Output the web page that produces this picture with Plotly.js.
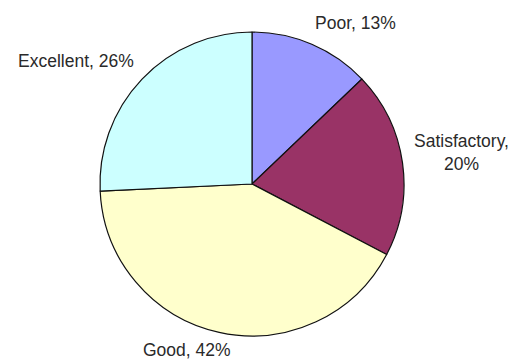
<!DOCTYPE html>
<html><head><meta charset="utf-8">
<script src="https://cdn.plot.ly/plotly-3.0.1.min.js"></script>
<style>html,body{margin:0;padding:0;background:#fff}</style>
</head><body>
<div id="chart" style="width:515px;height:363px"></div>
<script>
const categories = ["Poor", "Satisfactory", "Good", "Excellent"];
const percents = [13, 20, 42, 26];
const sliceColors = ["#9999FF", "#993366", "#FFFFCC", "#CCFFFF"];

const W = 515, H = 363;
// label anchor positions in pixels (x center, y center)
const labelPos = [[355, 23], [461, 152], [187, 350], [76, 61]];
const labelText = categories.map((c, i) =>
  c === "Satisfactory" ? c + ",<br>" + percents[i] + "%" : c + ", " + percents[i] + "%");

const annotations = labelPos.map((p, i) => ({
  x: p[0] / W, y: 1 - p[1] / H, xref: "paper", yref: "paper",
  xanchor: "center", yanchor: "middle", showarrow: false,
  text: labelText[i],
  font: {family: "Liberation Sans, Arial, sans-serif", size: 17.5, color: "#2a2a2a"}
}));

Plotly.newPlot("chart", [{
  type: "pie",
  labels: categories,
  values: percents,
  sort: false,
  direction: "clockwise",
  rotation: 0,
  textinfo: "none",
  hoverinfo: "none",
  marker: {colors: sliceColors, line: {color: "#111", width: 1.2}},
  domain: {x: [100 / W, 404 / W], y: [1 - 336 / H, 1 - 32 / H]}
}], {
  width: W, height: H,
  margin: {l: 0, r: 0, t: 0, b: 0},
  showlegend: false,
  paper_bgcolor: "#fff",
  annotations: annotations
}, {staticPlot: true});
</script>
</body></html>
